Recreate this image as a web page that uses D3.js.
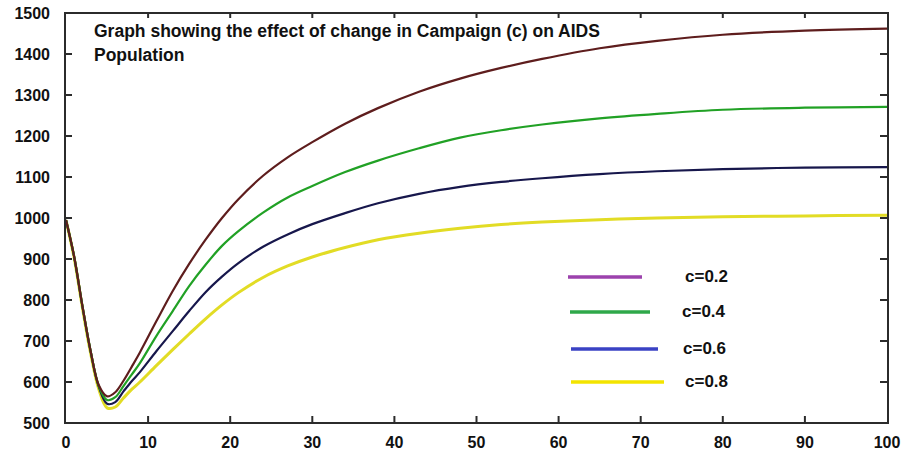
<!DOCTYPE html>
<html>
<meta charset="utf-8">
<head>
  <script src="https://d3js.org/d3.v7.js"></script>
  <style>
    body { margin: 0; background: #fff; }
    text { font-family: "Liberation Sans", Arial, sans-serif; font-weight: bold; fill: #111; }
  </style>
</head>
<body>
  <svg id="graph" width="905" height="454"></svg>
  <script>
    var times = [0, 1, 2, 3, 4, 5, 6, 7, 8, 9, 11, 13, 15, 17, 19, 21, 24, 27, 30, 34, 38, 43, 48, 53, 58, 65, 72, 80, 90, 100];
    var c02 = [995, 905, 785, 675, 592, 565, 575, 603, 637, 672, 748, 822, 888, 947, 1000, 1046, 1103, 1148, 1185, 1230, 1268, 1308, 1340, 1366, 1388, 1414, 1432, 1447, 1457, 1462];
    var c04 = [995, 905, 785, 675, 590, 556, 563, 590, 618, 646, 712, 773, 834, 886, 932, 968, 1013, 1050, 1078, 1112, 1140, 1170, 1196, 1214, 1228, 1243, 1254, 1264, 1269, 1271];
    var c06 = [995, 905, 785, 675, 588, 547, 551, 577, 602, 624, 675, 724, 773, 819, 857, 890, 930, 960, 985, 1012, 1036, 1059, 1076, 1088, 1097, 1107, 1114, 1119, 1123, 1124];
    var c08 = [995, 902, 781, 670, 582, 537, 539, 561, 582, 600, 640, 679, 717, 754, 788, 818, 855, 883, 905, 928, 947, 963, 975, 984, 990, 996, 1000, 1003, 1005, 1007];

    var xTicks = [0, 10, 20, 30, 40, 50, 60, 70, 80, 90, 100];
    var yTicks = [500, 600, 700, 800, 900, 1000, 1100, 1200, 1300, 1400, 1500];

    var legendLabels = ["c=0.2", "c=0.4", "c=0.6", "c=0.8"];
    var legendColors = ["#9c42ad", "#2fa84a", "#3a42c4", "#f3e400"];
    var lineColors = ["#5e1d1d", "#21a125", "#17174c", "#e2dc25"];
    var seriesList = [c02, c04, c06, c08];

    var svg = d3.select("svg#graph");
    var plotL = 66, plotR = 887, plotT = 13, plotB = 423;

    var xScale = d3.scaleLinear().domain([0, 100]).range([plotL, plotR]);
    var yScale = d3.scaleLinear().domain([500, 1500]).range([plotB, plotT]);

    // curves, yellow first so the others lie on top near the minimum
    var line = d3.line()
      .x(function(d) { return xScale(d[0]); })
      .y(function(d) { return yScale(d[1]); })
      .curve(d3.curveCatmullRom.alpha(0.5));

    var order = [3, 2, 1, 0];
    order.forEach(function(i) {
      var pts = times.map(function(t, k) { return [t, seriesList[i][k]]; });
      svg.append("path")
        .datum(pts)
        .attr("d", line)
        .attr("fill", "none")
        .attr("stroke", lineColors[i])
        .attr("stroke-width", i == 3 ? 3 : 2.2)
        .attr("stroke-linejoin", "round");
    });

    // frame with inward ticks on all sides
    var frame = svg.append("g").attr("stroke", "#2b2b2b").attr("stroke-width", 2);
    frame.append("rect")
      .attr("x", plotL - 1).attr("y", plotT)
      .attr("width", plotR - plotL + 2).attr("height", plotB - plotT)
      .attr("fill", "none");

    frame.selectAll("line.ytl").data(yTicks.slice(1, -1)).enter().append("line")
      .attr("x1", plotL - 1).attr("x2", plotL + 6)
      .attr("y1", function(d) { return yScale(d); }).attr("y2", function(d) { return yScale(d); });
    frame.selectAll("line.ytr").data(yTicks.slice(1, -1)).enter().append("line")
      .attr("x1", plotR + 1).attr("x2", plotR - 7)
      .attr("y1", function(d) { return yScale(d); }).attr("y2", function(d) { return yScale(d); });
    frame.selectAll("line.xtb").data(xTicks.slice(1, -1)).enter().append("line")
      .attr("x1", function(d) { return xScale(d); }).attr("x2", function(d) { return xScale(d); })
      .attr("y1", plotB).attr("y2", plotB - 7);
    frame.selectAll("line.xtt").data(xTicks.slice(1, -1)).enter().append("line")
      .attr("x1", function(d) { return xScale(d); }).attr("x2", function(d) { return xScale(d); })
      .attr("y1", plotT).attr("y2", plotT + 5);

    // tick labels
    svg.selectAll("text.ylab").data(yTicks).enter().append("text")
      .attr("x", 50)
      .attr("y", function(d) { return yScale(d) + 6; })
      .attr("text-anchor", "end")
      .style("font-size", "16px")
      .text(function(d) { return d; });

    svg.selectAll("text.xlab").data(xTicks).enter().append("text")
      .attr("x", function(d) { return xScale(d); })
      .attr("y", 448)
      .attr("text-anchor", "middle")
      .style("font-size", "16px")
      .text(function(d) { return d; });

    // title
    svg.append("text").attr("x", 94).attr("y", 37).style("font-size", "17.5px")
      .text("Graph showing the effect of change in Campaign (c) on AIDS");
    svg.append("text").attr("x", 94).attr("y", 61).style("font-size", "17.5px")
      .text("Population");

    // legend
    var legX1 = [568, 570, 571, 571];
    var legX2 = [642, 650, 658, 664];
    var legY = [277, 312, 349, 382];
    var labX = [685, 682, 683, 685];
    legendLabels.forEach(function(lab, i) {
      svg.append("line")
        .attr("x1", legX1[i]).attr("x2", legX2[i])
        .attr("y1", legY[i]).attr("y2", legY[i])
        .attr("stroke", legendColors[i])
        .attr("stroke-width", 3.5);
      svg.append("text")
        .attr("x", labX[i]).attr("y", legY[i] + 5)
        .style("font-size", "17px")
        .text(lab);
    });
  </script>
</body>
</html>
